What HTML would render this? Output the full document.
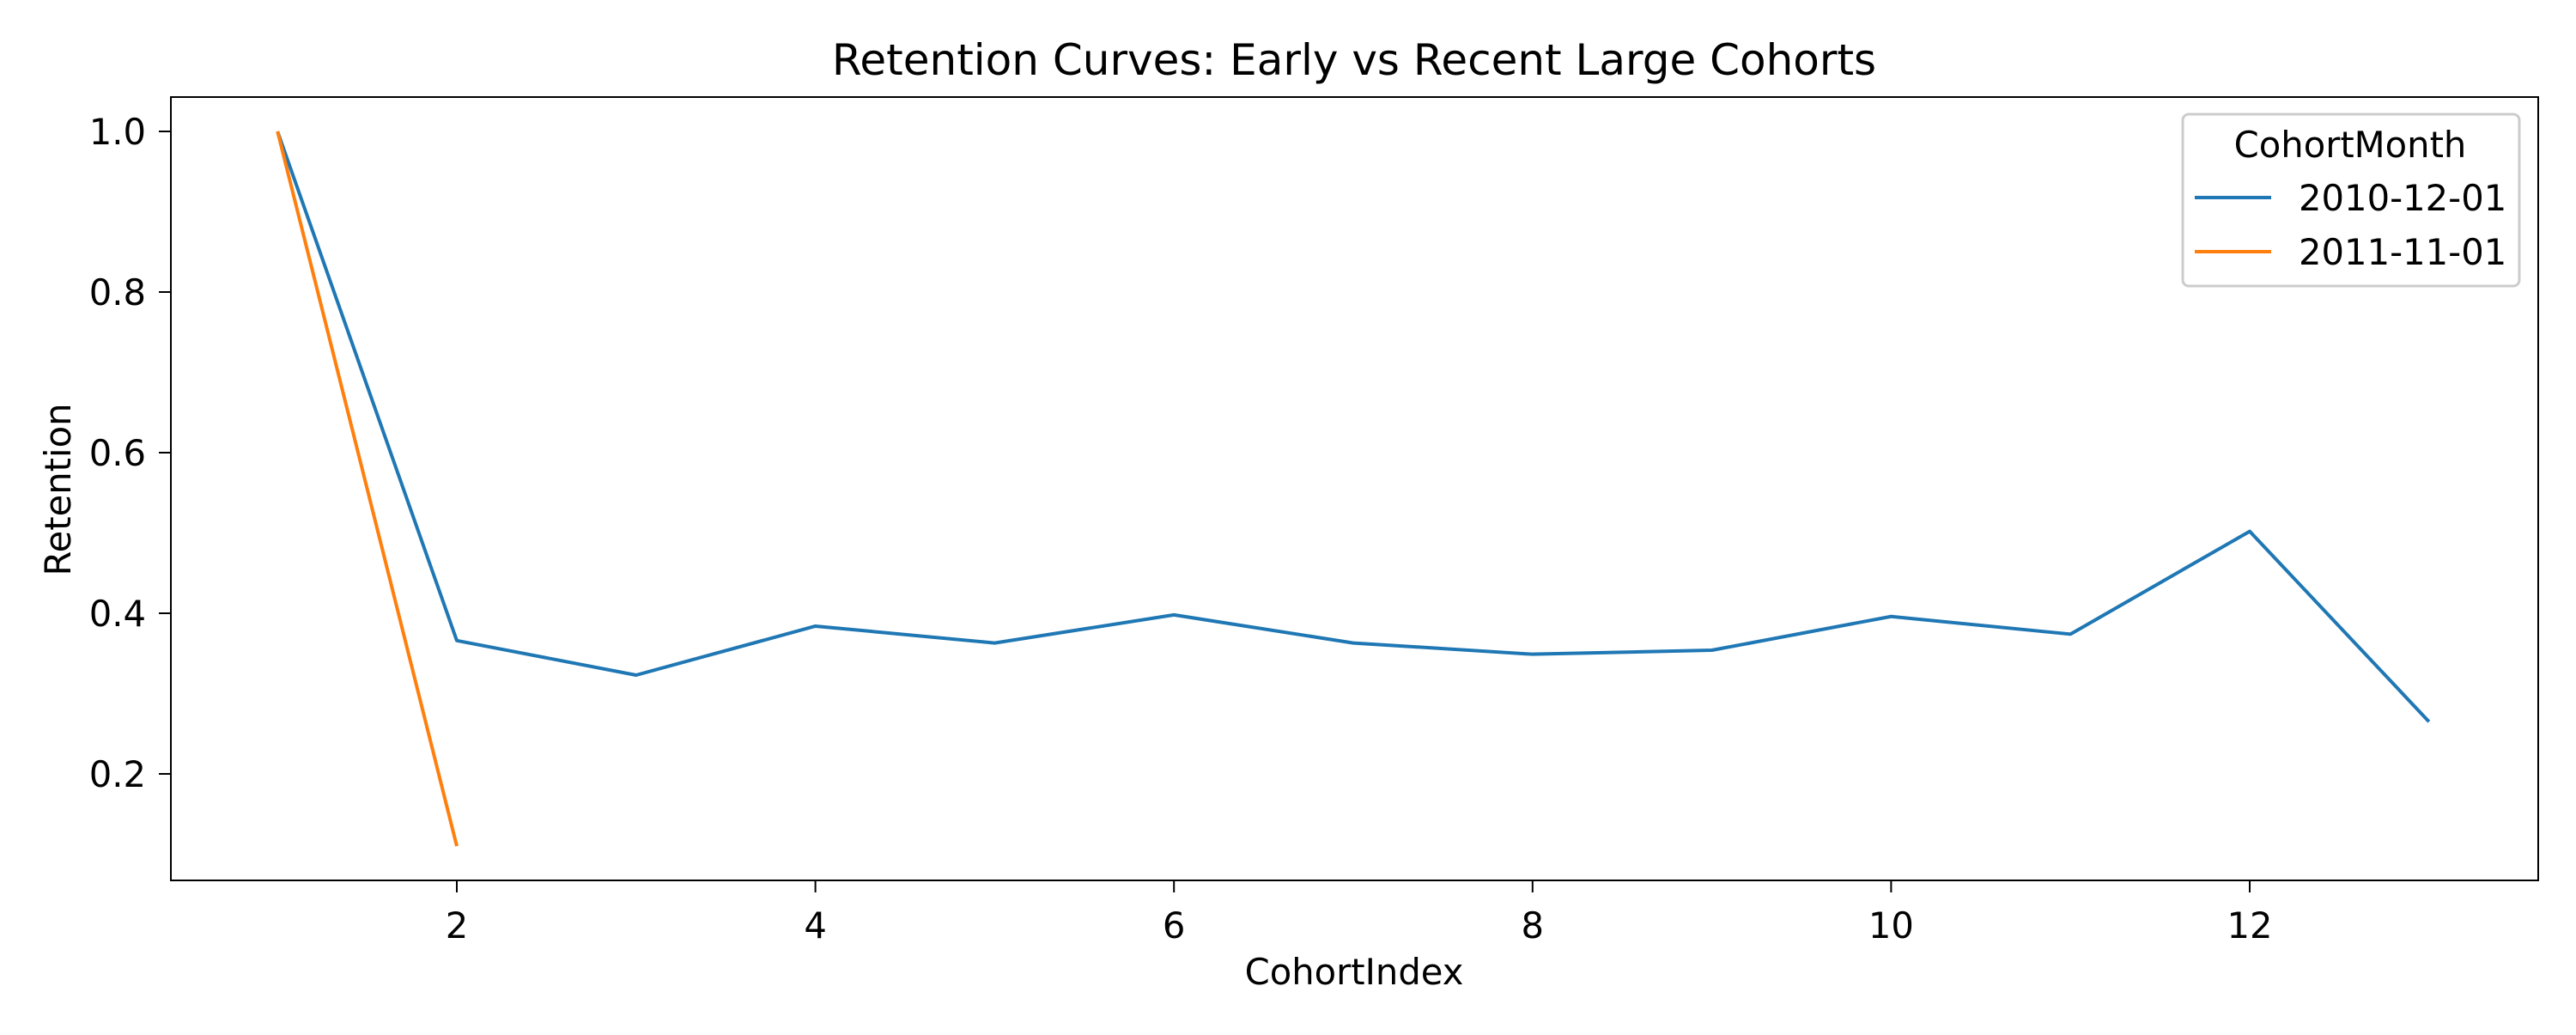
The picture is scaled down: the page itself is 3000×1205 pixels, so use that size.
<!DOCTYPE html>
<html><head><meta charset="utf-8"><style>
body{margin:0;background:#fff}
svg text{font-family:"DejaVu Sans","Liberation Sans",sans-serif;fill:#000}
</style></head><body>
<svg id="chart" width="3000" height="1200" viewBox="0 0 3000 1200" xmlns="http://www.w3.org/2000/svg">
<rect width="3000" height="1200" fill="#fff"/>
<text x="1577" y="87" font-size="50" text-anchor="middle">Retention Curves: Early vs Recent Large Cohorts</text>
<g id="marks"></g>
<rect x="199" y="113" width="2757" height="912" fill="none" stroke="#000" stroke-width="2"/>
<g id="axes"></g>
<text x="1577" y="1146" font-size="41.7" text-anchor="middle">CohortIndex</text>
<text transform="translate(82,570) rotate(-90)" font-size="41.7" text-anchor="middle">Retention</text>
<g>
<rect x="2542" y="133" width="392" height="200" rx="7" fill="#fff" fill-opacity="0.8" stroke="#ccc" stroke-width="3"/>
<text x="2737" y="183" font-size="41.7" text-anchor="middle">CohortMonth</text>
<line x1="2556" y1="230" x2="2645" y2="230" stroke="#1f77b4" stroke-width="4"/>
<text x="2677" y="245" font-size="41.7">2010-12-01</text>
<line x1="2556" y1="293" x2="2645" y2="293" stroke="#ff7f0e" stroke-width="4"/>
<text x="2677" y="308" font-size="41.7">2011-11-01</text>
</g>
</svg>
<script>
const blueIndex=[1,2,3,4,5,6,7,8,9,10,11,12,13];
const blueValues=[1.0,0.366,0.323,0.384,0.363,0.398,0.363,0.349,0.354,0.396,0.374,0.502,0.265];
const orangeIndex=[1,2];
const orangeValues=[1.0,0.11];
const xTicks=[2,4,6,8,10,12];
const yTicks=[0.2,0.4,0.6,0.8,1.0];
const yTickLabels=["0.2","0.4","0.6","0.8","1.0"];

const NS="http://www.w3.org/2000/svg";
function xs(v){return 532+(v-2)*208.8;}
function ys(v){return 153+(1.0-v)*935;}
const marks=document.getElementById('marks');
const axes=document.getElementById('axes');
function mk(tag,attrs,parent){const e=document.createElementNS(NS,tag);for(const k in attrs)e.setAttribute(k,attrs[k]);parent.appendChild(e);return e;}
function line(xsArr,vals,color,name){
  const p=mk('polyline',{points:xsArr.map((x,i)=>xs(x)+','+ys(vals[i])).join(' '),fill:'none',stroke:color,'stroke-width':4,'stroke-linejoin':'round'},marks);
  
  
}
line(blueIndex,blueValues,'#1f77b4','series-2010-12-01');
line(orangeIndex,orangeValues,'#ff7f0e','series-2011-11-01');
xTicks.forEach(t=>{
  const x=xs(t);
  mk('line',{x1:x,y1:1025,x2:x,y2:1039,stroke:'#000','stroke-width':2},axes);
  const tx=mk('text',{x:x,y:1092,'font-size':41.7,'text-anchor':'middle'},axes);
  tx.textContent=t;
  
  
});
yTicks.forEach((t,i)=>{
  const y=ys(t);
  mk('line',{x1:185,y1:y,x2:199,y2:y,stroke:'#000','stroke-width':2},axes);
  const tx=mk('text',{x:170,y:y+15,'font-size':41.7,'text-anchor':'end'},axes);
  tx.textContent=yTickLabels[i];
  
  
});
</script>
</body></html>
